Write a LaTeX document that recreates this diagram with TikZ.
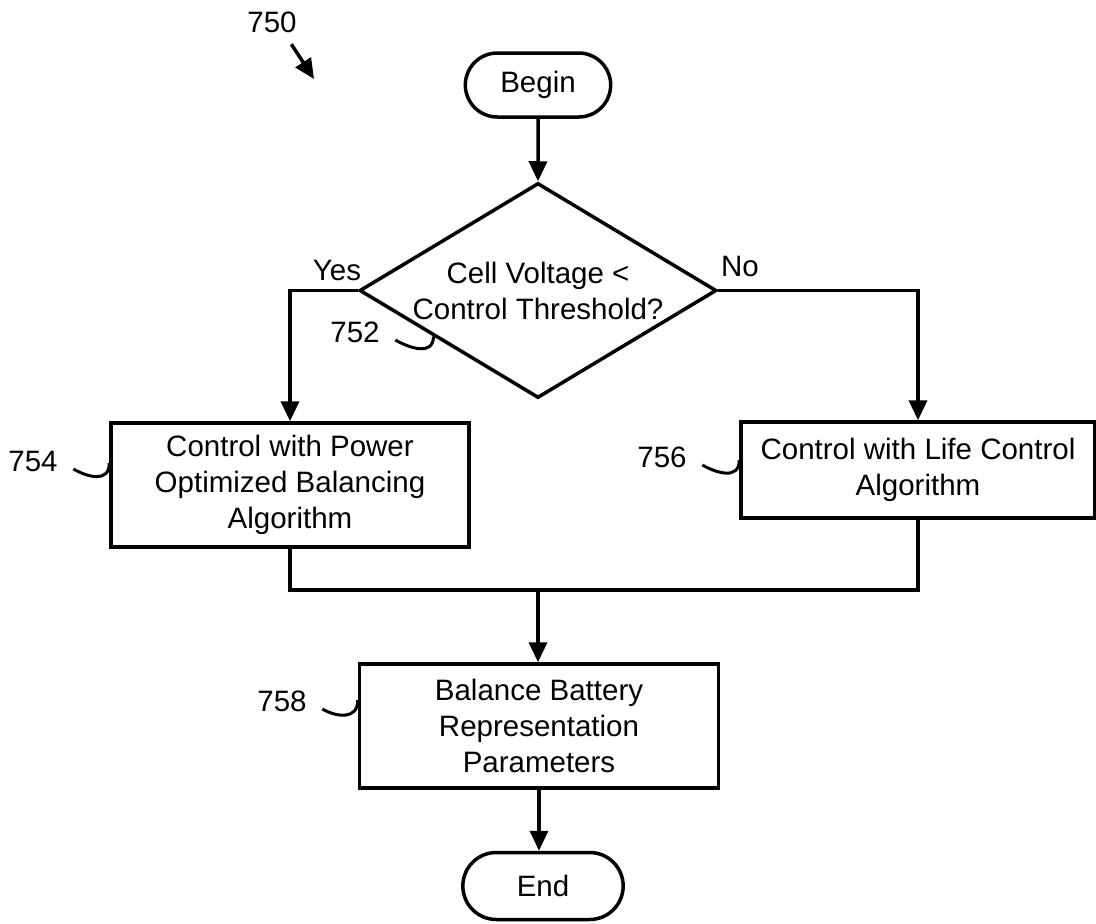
\documentclass[tikz,border=0pt]{standalone}
\usepackage{fontspec}
\setmainfont{Liberation Sans}
\usetikzlibrary{arrows.meta,shapes.geometric,shapes.misc,calc}

\begin{document}
\begin{tikzpicture}[
	x=1pt, y=-1pt,
	font=\fontsize{29.5pt}{36pt}\selectfont,
	line width=3.5pt,
	arr/.style={-{Triangle[length=20pt,width=18pt]}},
	term/.style={draw,rounded rectangle,minimum width=152pt,minimum height=64pt},
	dec/.style={draw,diamond,minimum width=357pt,minimum height=215pt,inner sep=0pt},
	proc/.style={draw,rectangle,align=center,minimum width=358pt,minimum height=124pt},
	txt/.style={align=center,inner sep=0pt},
	refno/.style={inner sep=2pt},
	lead/.style={line width=3pt},
	]
\useasboundingbox (0,0) rectangle (1096,924);

% flow nodes
\node [term] (start) at (538,85) {Begin};
\node [dec] (dec) at (538,290.5) {};
\node [txt] (dectxt) at (dec.center) {Cell Voltage <\\Control Threshold?};
\node [proc] (b754) at (290,485) {Control with Power\\Optimized Balancing\\Algorithm};
\node [proc,minimum width=354pt,minimum height=96pt] (b756) at (918,470) {Control with Life Control\\Algorithm};
\node [proc,minimum width=359pt] (b758) at (539,726) {Balance Battery\\Representation\\Parameters};
\node [term,minimum width=167pt,minimum height=67pt] (fin) at (543,886) {End};

% branch labels
\node [refno] (yes) at (337,270) {Yes};
\node [refno] (no) at (740,266) {No};

% reference numbers
\node [refno] (l750) at (272,22) {750};
\node [refno] (l752) at (355,332) {752};
\node [refno] (l754) at (33,461) {754};
\node [refno] (l756) at (662,457) {756};
\node [refno] (l758) at (282,701) {758};

\coordinate (a750) at (314,79);
\coordinate (m) at (538,590);
\coordinate (e752) at ($(dec.west)!0.42!(dec.south)$);
\coordinate (e754) at ([yshift=-42pt]b754.north west);
\coordinate (e756) at ([yshift=-40pt]b756.north west);
\coordinate (e758) at ([yshift=-38pt]b758.north west);

% connectors
\draw [arr] (start) -- (dec);
\draw [arr] (dec.west) -| (b754.north);
\draw [arr] (dec.east) -| (b756.north);
\draw (b754.south) |- (m) -| (b756.south);
\draw [arr] (m) -- (m |- b758.north);
\draw [arr] (b758.south) -- (b758.south |- fin.north);

% leaders
\draw [arr] ([shift={(-9,8)}]l750.south east) -- (a750);
\draw [lead] ([shift={(12,8)}]l752.east) .. controls +(14,8) and +(0,20) .. (e752);
\draw [lead] ([shift={(12,8)}]l754.east) .. controls +(14,8) and +(0,20) .. (e754);
\draw [lead] ([shift={(12,8)}]l756.east) .. controls +(14,8) and +(0,20) .. (e756);
\draw [lead] ([shift={(12,8)}]l758.east) .. controls +(14,8) and +(0,20) .. (e758);
\end{tikzpicture}
\end{document}
